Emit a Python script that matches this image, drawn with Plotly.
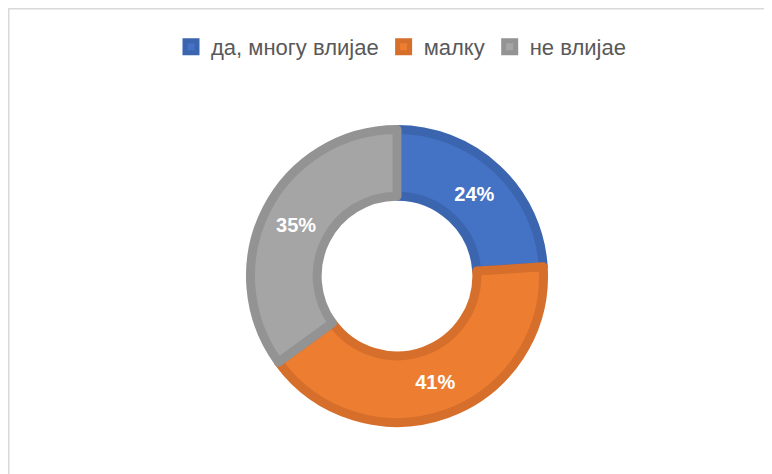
import plotly.graph_objects as go

labels = ["да, многу влијае", "малку", "не влијае"]
values = [24, 41, 35]
fill_colors = ["#4472C4", "#ED7D31", "#A5A5A5"]
edge_colors = ["#3C65AF", "#D56F2B", "#939393"]

W, H = 772, 474
# page has 8px body margin; coordinates below are figure coordinates
cx, cy, r = 389, 268, 146.5

fig = go.Figure(go.Pie(
    labels=labels,
    values=values,
    hole=0.545,
    sort=False,
    direction="clockwise",
    rotation=0,
    marker=dict(colors=fill_colors, line=dict(color=edge_colors, width=9)),
    textinfo="percent",
    texttemplate="%{percent:.0%}",
    textposition="inside",
    insidetextorientation="horizontal",
    textfont=dict(family="Liberation Sans", size=20, color="white", weight=700),
    domain=dict(x=[(cx - r) / W, (cx + r) / W], y=[(H - cy - r) / H, (H - cy + r) / H]),
))

fig.update_layout(
    width=W, height=H,
    margin=dict(l=0, r=0, t=0, b=0),
    paper_bgcolor="white",
    plot_bgcolor="white",
    showlegend=True,
    legend=dict(
        orientation="h", x=393 / W, xanchor="center", y=1 - 18 / H, yanchor="top",
        font=dict(family="Liberation Sans", size=22, color="#595959"),
        itemwidth=30, traceorder="normal",
    ),
    shapes=[
        dict(type="line", xref="paper", yref="paper", x0=0, x1=1, y0=1 - 0.75 / H, y1=1 - 0.75 / H,
             line=dict(color="#D9D9D9", width=1.5)),
        dict(type="line", xref="paper", yref="paper", x0=0.75 / W, x1=0.75 / W, y0=0, y1=1,
             line=dict(color="#D9D9D9", width=1.5)),
    ],
)

fig.write_html("out.html")
